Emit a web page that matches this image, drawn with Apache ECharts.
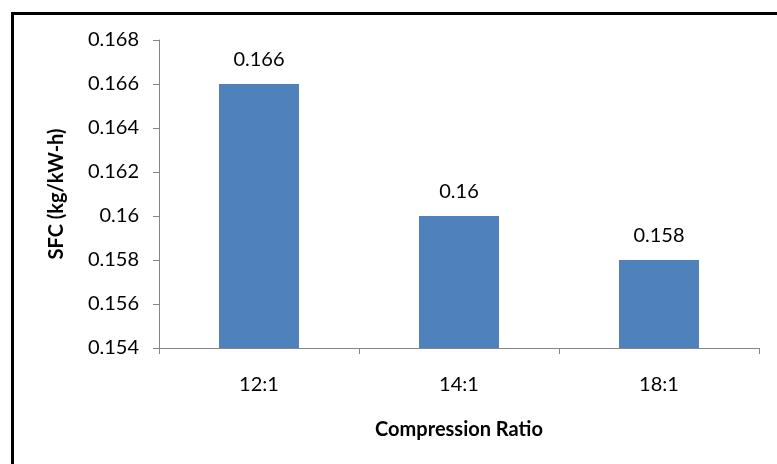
<!DOCTYPE html>
<html>
<head>
<meta charset="utf-8">
<script src="https://cdn.jsdelivr.net/npm/echarts@6/dist/echarts.min.js"></script>
<style>
  html, body { margin: 0; padding: 0; background: #fff; overflow: hidden; }
  #frame { position: absolute; left: 11px; top: 12px; width: 800px; height: 500px;
           border: 3px solid #000; box-sizing: border-box; }
  #chart { position: absolute; left: 0; top: 0; width: 777px; height: 464px; }
</style>
</head>
<body>
<div id="frame"></div>
<div id="chart"></div>
<script>
// Specific fuel consumption at each compression ratio
const ratios = ['12:1', '14:1', '18:1'];
const sfc = [0.166, 0.16, 0.158];
const yTicks = { min: 0.154, max: 0.168, step: 0.002 };

const FONT = 'Lato, "Open Sans", sans-serif';
const AXIS_GRAY = '#868686';

const chart = echarts.init(document.getElementById('chart'), null, { renderer: 'canvas' });
chart.setOption({
  backgroundColor: 'transparent',
  animation: false,
  grid: { left: 159, top: 40, right: 18, bottom: 116, containLabel: false },
  xAxis: {
    type: 'category',
    data: ratios,
    name: 'Compression Ratio',
    nameLocation: 'middle',
    nameGap: 72,
    nameTextStyle: { fontFamily: FONT, fontSize: 20, fontWeight: 'bold', color: '#000' },
    axisLine: { lineStyle: { color: AXIS_GRAY, width: 1 } },
    axisTick: { show: true, alignWithLabel: false, length: 6, lineStyle: { color: AXIS_GRAY } },
    axisLabel: { fontFamily: FONT, fontSize: 20, color: '#000', margin: 27 },
    splitLine: { show: false }
  },
  yAxis: {
    type: 'value',
    min: yTicks.min,
    max: yTicks.max,
    interval: yTicks.step,
    name: 'SFC (kg/kW-h)',
    nameLocation: 'middle',
    nameGap: 92,
    nameRotate: 90,
    nameTextStyle: { fontFamily: FONT, fontSize: 20, fontWeight: 'bold', color: '#000' },
    axisLine: { show: true, lineStyle: { color: AXIS_GRAY, width: 1 } },
    axisTick: { show: true, length: 6, lineStyle: { color: AXIS_GRAY } },
    axisLabel: {
      fontFamily: FONT, fontSize: 20, color: '#000', margin: 20,
      formatter: v => String(parseFloat(v.toFixed(3)))
    },
    splitLine: { show: false }
  },
  series: [{
    type: 'bar',
    data: sfc,
    barWidth: '40%',
    itemStyle: { color: '#4F81BD' },
    label: {
      show: true, position: 'top', distance: 14,
      fontFamily: FONT, fontSize: 20, color: '#000',
      formatter: p => String(p.value)
    }
  }]
});
</script>
</body>
</html>
